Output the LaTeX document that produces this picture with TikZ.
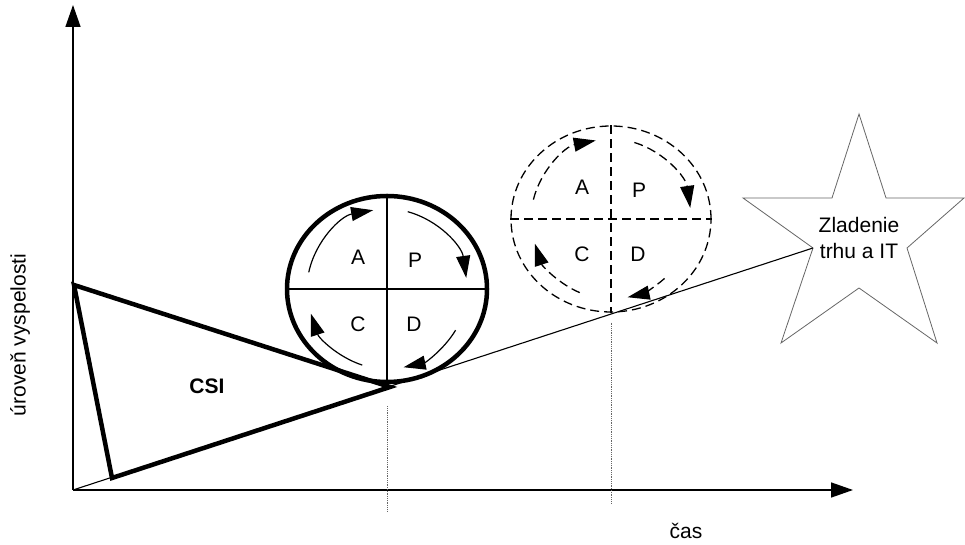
\documentclass[tikz,border=0pt]{standalone}
\usepackage{fontspec}
\setmainfont{Liberation Sans}
\usetikzlibrary{arrows.meta, shapes.geometric}
\newcommand{\velkyfont}{\fontsize{21}{26}\selectfont}
\tikzset{
  popis/.style={font=\velkyfont, inner sep=0pt},
  os/.style={-{Triangle[length=22pt,width=15pt]}, line width=1.5pt},
  tenka/.style={line width=1.1pt},
  silna/.style={line width=4.5pt},
  kruh/.style={ellipse, minimum width=200pt, minimum height=186pt, inner sep=0pt},
  rez/.style={line width=1.3pt},
  prerus/.style={dash pattern=on 9pt off 5pt, line width=1.3pt},
  cyklus/.style={-{Triangle[length=22pt,width=14pt]}, line width=1.2pt},
  pomocna/.style={densely dotted, line width=0.8pt, black!60},
  hviezda/.style={line width=0.8pt, black!60}
}
\begin{document}
\begin{tikzpicture}[x=1pt, y=1pt]
  \useasboundingbox (0,0) rectangle (965,545);
  % osi
  \coordinate (o) at (73,55);
  \coordinate (ykon) at (73,540);
  \coordinate (xkon) at (853,55);
  \draw[os] (o) -- (ykon);
  \draw[os] (o) -- (xkon);
  \node[popis, rotate=90] (yos) at (20,210) {úroveň vyspelosti};
  \node[popis] (cas) at (686,14) {čas};
  % hviezda
  \draw[hviezda] (859,431) -- (886,347) -- (964,347) -- (907,297) -- (937,202)
    -- (859,257) -- (781,202) -- (813,297) coordinate (hcip) -- (743,347)
    -- (832,347) -- cycle;
  \node[popis, align=center] (ciel) at (859,307) {Zladenie\\trhu a IT};
  \draw[tenka] (o) -- (hcip);
  % CSI
  \coordinate (csi1) at (74,260);
  \coordinate (csi2) at (112,67);
  \coordinate (csi3) at (390,158);
  \draw[silna] (csi1) -- (csi2) -- (csi3) -- cycle;
  \node[popis, font=\velkyfont\bfseries] (csi) at (207,159) {CSI};
  % PDCA - plny
  \node[kruh, silna, draw] (pdca1) at (387,256) {};
  \draw[rez] (pdca1.west) -- (pdca1.east);
  \draw[rez] (pdca1.north) -- (pdca1.south);
  \node[popis] (a1) at ([shift={(-29,32)}]pdca1.center) {A};
  \node[popis] (p1) at ([shift={(28,29)}]pdca1.center) {P};
  \node[popis] (c1) at ([shift={(-29,-35)}]pdca1.center) {C};
  \node[popis] (d1) at ([shift={(27,-35)}]pdca1.center) {D};
  \draw[cyklus] ([shift={(168:80)}]pdca1.center) arc[start angle=168, end angle=100, radius=80];
  \draw[cyklus] ([shift={(75:80)}]pdca1.center) arc[start angle=75, end angle=8, radius=80];
  \draw[cyklus] ([shift={(-31:80)}]pdca1.center) arc[start angle=-31, end angle=-78, radius=80];
  \draw[cyklus] ([shift={(-108:80)}]pdca1.center) arc[start angle=-108, end angle=-162, radius=80];
  % PDCA - buduci
  \node[kruh, prerus, draw] (pdca2) at (611,326) {};
  \draw[prerus] (pdca2.west) -- (pdca2.east);
  \draw[prerus] (pdca2.north) -- (pdca2.south);
  \node[popis] (a2) at ([shift={(-29,32)}]pdca2.center) {A};
  \node[popis] (p2) at ([shift={(28,29)}]pdca2.center) {P};
  \node[popis] (c2) at ([shift={(-29,-35)}]pdca2.center) {C};
  \node[popis] (d2) at ([shift={(27,-35)}]pdca2.center) {D};
  \draw[cyklus, prerus] ([shift={(166:80)}]pdca2.center) arc[start angle=166, end angle=101, radius=80];
  \draw[cyklus, prerus] ([shift={(73:80)}]pdca2.center) arc[start angle=73, end angle=8, radius=80];
  \draw[cyklus, prerus] ([shift={(-48:80)}]pdca2.center) arc[start angle=-48, end angle=-78, radius=80];
  \draw[cyklus, prerus] ([shift={(-113:80)}]pdca2.center) arc[start angle=-113, end angle=-162, radius=80];
  % pomocne ciary
  \coordinate (t1) at (387,33);
  \coordinate (t2) at (611,42);
  \draw[pomocna] ([yshift=-22pt]pdca1.south) -- (t1);
  \draw[pomocna] ([yshift=-10pt]pdca2.south) -- (t2);
\end{tikzpicture}
\end{document}
